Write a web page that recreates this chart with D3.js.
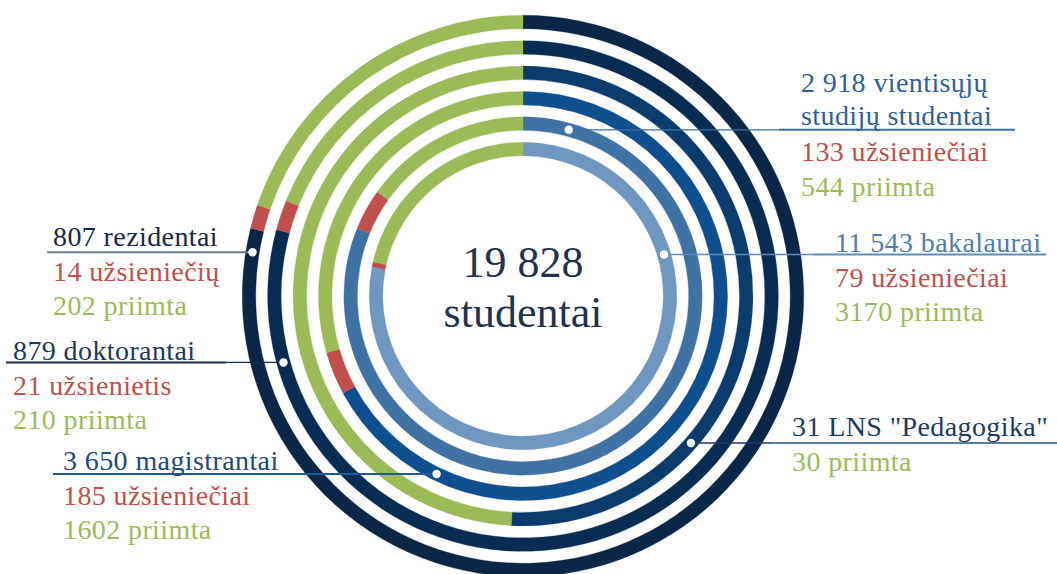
<!DOCTYPE html>
<html>
<head>
<meta charset="utf-8">
<script src="https://cdn.jsdelivr.net/npm/d3@7"></script>
<style>
  html, body { margin: 0; padding: 0; background: #ffffff; }
  svg { display: block; }
</style>
</head>
<body>
<svg id="chart" width="1057" height="574"></svg>
<script>
// ---- Data (outer ring -> inner ring) ----
const categories = ["rezidentai", "doktorantai", "LNS \"Pedagogika\"", "magistrantai", "vientisųjų studijų studentai", "bakalaurai"];
const students   = [807, 879, 31, 3650, 2918, 11543];
const foreigners = [14, 21, 0, 185, 133, 79];
const admitted   = [202, 210, 30, 1602, 544, 3170];
const totalStudents = 19828;

const titleLines   = [["807 rezidentai"], ["879 doktorantai"], ["31 LNS \"Pedagogika\""], ["3 650 magistrantai"], ["2 918 vientisųjų", "studijų studentai"], ["11 543 bakalaurai"]];
const foreignWords = ["užsieniečių", "užsienietis", null, "užsieniečiai", "užsieniečiai", "užsieniečiai"];
const admittedWord = "priimta";
const centerLines  = ["19 828", "studentai"];

// ---- pick an installed serif font ----
function pickFont(cands) {
  const c = document.createElement("canvas").getContext("2d");
  const s = "mmmmmmmmmmlli1WQ@#studentai";
  const w = f => { c.font = "40px " + f; return c.measureText(s).width; };
  const mono = w("monospace"), sans = w("sans-serif");
  for (const f of cands) {
    const a = w(`'${f}', monospace`), b = w(`'${f}', sans-serif`);
    if (a !== mono && b !== sans) return f;
    if (a !== mono && Math.abs(a - b) < 0.01) return f;
  }
  return null;
}
const picked = pickFont(["Liberation Serif", "Tinos", "DejaVu Serif", "Noto Serif", "FreeSerif", "Times New Roman", "Times", "Georgia"]);
const FONT = picked ? `'${picked}', serif` : "serif";

// ---- Styling / layout ----
const ringColors  = ["#0b2646", "#092c53", "#0c3c6c", "#104f8e", "#4072a4", "#6f97bf"];
const labelColors = ["#15294a", "#1b3a5e", "#1d3a5f", "#1b4a7c", "#2b5f9e", "#4d7db3"];
const lineColors  = ["#6d7a8c", "#1b2c45", "#5b7ca0", "#1f5a98", "#3a6ea8", "#5f8bbd"];
const redColor = "#c0504d", greenColor = "#9bbb59";

const cx = 523, cy = 296;
const ringWidth = 13.5;
const lineGap = 34.5;

const dotAngles = [279.2, 254.5, 131.2, 205.9, 15.4, 73.6];
const labelLayout = [
  {x: 53,  y: 246, ul: [47, null],  side: "left"},
  {x: 13,  y: 360, ul: [6, 226],    side: "left"},
  {x: 792, y: 436, ul: [772, 1057], side: "right"},
  {x: 63,  y: 470, ul: [53, null],  side: "left"},
  {x: 801, y: 92,  ul: [779, 1015], side: "right"},
  {x: 835, y: 252, ul: [813, 1046], side: "right"}
];

const svg = d3.select("#chart");
const g = svg.append("g").attr("transform", `translate(${cx},${cy})`);

const rScale = d3.scaleLinear().domain([0, categories.length - 1]).range([274, 147]);
const pie = d3.pie().sort(null).value(d => d.v);
const segColors = (i) => [ringColors[i], redColor, greenColor];

categories.forEach((c, i) => {
  const data = [{v: students[i]}, {v: foreigners[i]}, {v: admitted[i]}];
  const r = rScale(i);
  const arc = d3.arc().innerRadius(r - ringWidth / 2).outerRadius(r + ringWidth / 2);
  g.append("g").selectAll("path")
    .data(pie(data))
    .join("path")
    .attr("d", arc)
    .attr("fill", (d, j) => segColors(i)[j])
    .attr("stroke", (d, j) => segColors(i)[j])
    .attr("stroke-width", 0.3);
});

g.append("text")
  .attr("text-anchor", "middle")
  .attr("fill", "#1f3350")
  .attr("font-family", FONT)
  .attr("font-size", 44)
  .selectAll("tspan")
  .data(centerLines)
  .join("tspan")
  .attr("x", 0)
  .attr("y", (d, i) => -19 + i * 50)
  .text(d => d);

const lab = svg.append("g");
categories.forEach((c, i) => {
  const r = rScale(i);
  const a = dotAngles[i] * Math.PI / 180;
  const dx = cx + r * Math.sin(a);
  const dy = cy - r * Math.cos(a);
  const L = labelLayout[i];
  const ulStart = L.ul[0];
  const ulEnd = L.ul[1] === null ? dx : L.ul[1];

  if (L.side === "right") {
    lab.append("line").attr("x1", dx).attr("x2", ulStart).attr("y1", dy).attr("y2", dy)
      .attr("stroke", i === 2 ? "#1f3864" : lineColors[i]).attr("stroke-width", 1.3);
  } else if (L.ul[1] !== null) {
    lab.append("line").attr("x1", L.ul[1]).attr("x2", dx).attr("y1", dy).attr("y2", dy)
      .attr("stroke", lineColors[i]).attr("stroke-width", 1.2);
  }
  lab.append("line").attr("x1", ulStart).attr("x2", ulEnd).attr("y1", dy).attr("y2", dy)
    .attr("stroke", lineColors[i]).attr("stroke-width", 2);

  lab.append("circle").attr("cx", dx).attr("cy", dy).attr("r", 4.2).attr("fill", "#ffffff");

  const lines = titleLines[i].map(t => ({t, col: labelColors[i]}));
  if (foreignWords[i]) lines.push({t: `${foreigners[i]} ${foreignWords[i]}`, col: redColor});
  lines.push({t: `${admitted[i]} ${admittedWord}`, col: greenColor});

  const nTitle = titleLines[i].length;
  lab.append("g").selectAll("text")
    .data(lines)
    .join("text")
    .attr("x", L.x)
    .attr("y", (d, k) => L.y + k * lineGap - (nTitle > 1 && k === 1 ? 1.5 : 0))
    .attr("font-family", FONT)
    .attr("font-size", 28)
    .attr("letter-spacing", 0.4)
    .attr("fill", d => d.col)
    .text(d => d.t);
});
</script>
</body>
</html>
